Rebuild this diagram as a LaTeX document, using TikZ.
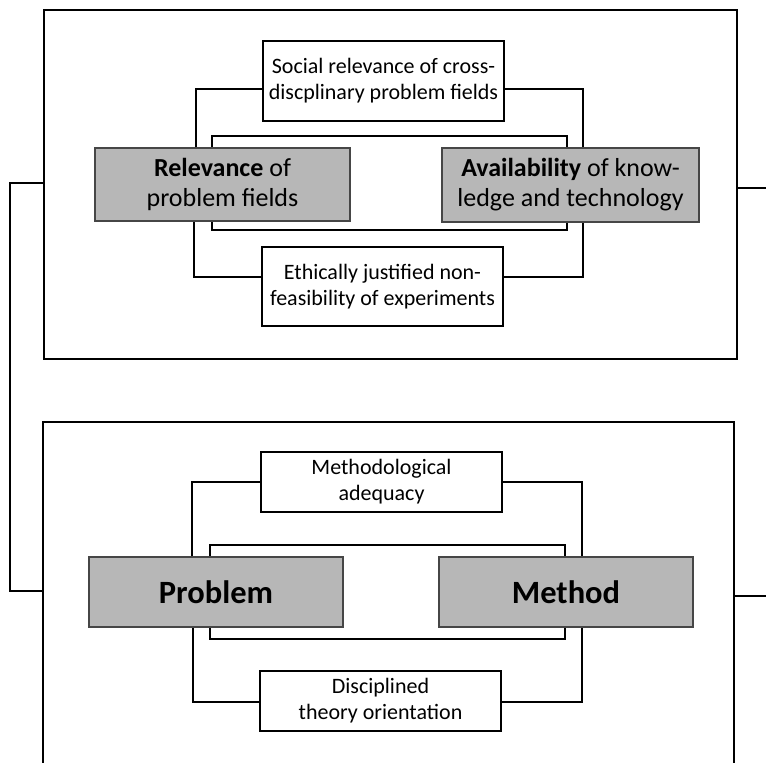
\documentclass[tikz,border=0pt]{standalone}
\usepackage{fontspec}
\setmainfont{Carlito}
\definecolor{boxgray}{RGB}{183,183,183}
\definecolor{boxedge}{RGB}{70,70,70}
\tikzset{
  panel/.style={draw, line width=1.6pt, inner sep=0pt, anchor=north west},
  sidebox/.style={draw, fill=white, line width=1.7pt, inner sep=0pt, align=center,
    font=\fontsize{22}{26}\selectfont},
  mainbox/.style={draw=boxedge, fill=boxgray, line width=1.5pt, inner sep=0pt, align=center,
    font=\fontsize{26}{30}\selectfont},
  bigbox/.style={mainbox, font=\fontsize{32.5}{36}\selectfont\bfseries},
  link/.style={draw, line width=1.8pt},
}
\begin{document}
\begin{tikzpicture}[x=1pt,y=-1pt]
\useasboundingbox (0,0) rectangle (766,763);
\clip (0,0) rectangle (766,763);

% panels
\node[panel, minimum width=693pt, minimum height=349pt] (toppanel) at (43,9) {};
\node[panel, minimum width=691pt, minimum height=380pt] (botpanel) at (42,421) {};

% ---------- top panel ----------
\coordinate (iTL1) at (212,136);
\coordinate (iBR1) at (567,230);
\coordinate (cLt1) at (196,89);
\coordinate (cRt1) at (583,89);
\coordinate (cLb1) at (194,277);
\coordinate (cRb1) at (583,277);

\draw[link] (iTL1 |- 0,148) -- (iTL1) -| (iBR1 |- 0,148);
\draw[link] (iTL1 |- 0,221) |- (iBR1) -- (iBR1 |- 0,222);

\node[sidebox, minimum width=241pt, minimum height=80pt] (soc) at (383.5,81) {Social relevance of cross-\\discplinary problem fields};
\node[sidebox, minimum width=241pt, minimum height=79pt] (eth) at (382.5,286.5) {Ethically justified non-\\feasibility of experiments};
\node[mainbox, minimum width=255pt, minimum height=73pt] (rel) at (222.5,184.5) {\textbf{Relevance} of\\problem fields};
\node[mainbox, minimum width=257pt, minimum height=74pt] (avail) at (570.5,185) {\textbf{Availability} of know-\\ledge and technology};

\draw[link] (rel.north -| cLt1) |- (soc.west |- cLt1);
\draw[link] (soc.east |- cRt1) -| (avail.north -| cRt1);
\draw[link] (rel.south -| cLb1) |- (eth.west |- cLb1);
\draw[link] (eth.east |- cRb1) -| (avail.south -| cRb1);

% ---------- bottom panel ----------
\coordinate (iTL2) at (210,545);
\coordinate (iBR2) at (565,639);
\coordinate (cLt2) at (192,482);
\coordinate (cRt2) at (582,482);
\coordinate (cLb2) at (193,702);
\coordinate (cRb2) at (582,702);

\draw[link] (iTL2 |- 0,557) -- (iTL2) -| (iBR2 |- 0,557);
\draw[link] (iTL2 |- 0,627) |- (iBR2) -- (iBR2 |- 0,627);

\node[sidebox, minimum width=241pt, minimum height=60pt] (meth) at (381.5,482) {Methodological\\adequacy};
\node[sidebox, minimum width=241pt, minimum height=60pt] (disc) at (380.5,701) {Disciplined\\theory orientation};
\node[bigbox, minimum width=254pt, minimum height=70pt] (prob) at (216,592) {Problem};
\node[bigbox, minimum width=254pt, minimum height=70pt] (method) at (566,592) {Method};

\draw[link] (prob.north -| cLt2) |- (meth.west |- cLt2);
\draw[link] (meth.east |- cRt2) -| (method.north -| cRt2);
\draw[link] (prob.south -| cLb2) |- (disc.west |- cLb2);
\draw[link] (disc.east |- cRb2) -| (method.south -| cRb2);

% ---------- outer connectors ----------
\coordinate (L1) at (10,183);
\coordinate (L2) at (10,591);
\coordinate (R1) at (766,188);
\coordinate (R2) at (766,596);
\draw[link] (toppanel.west |- L1) -- (L1) -- (L2) -- (botpanel.west |- L2);
\draw[link] (toppanel.east |- R1) -- (R1);
\draw[link] (botpanel.east |- R2) -- (R2);
\end{tikzpicture}
\end{document}
